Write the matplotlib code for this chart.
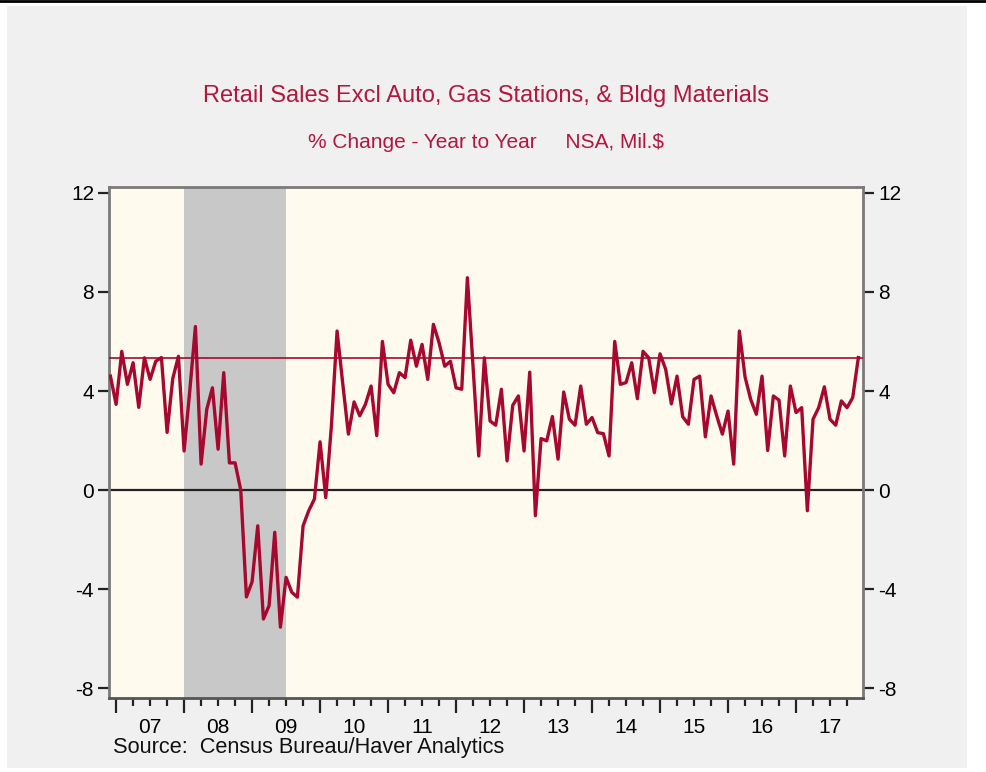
import numpy as np
import pandas as pd
import matplotlib
matplotlib.use("Agg")
import matplotlib.pyplot as plt
from matplotlib.patches import Rectangle

plt.rcParams['font.family'] = ['Liberation Sans', 'DejaVu Sans']
plt.rcParams['axes.unicode_minus'] = False

# monthly % change y/y, Dec 2006 - Dec 2017
start_month = "2006-12-01"
yoy = [4.6, 3.46, 5.6, 4.27, 5.14, 3.34, 5.34, 4.47, 5.2, 5.35, 2.33, 4.5,
       5.4, 1.58, 4.0, 6.6, 1.05, 3.26, 4.13, 1.65, 4.74, 1.1, 1.1, 0.0,
       -4.31, -3.7, -1.44, -5.2, -4.66, -1.7, -5.53, -3.52, -4.12, -4.32, -1.44, -0.83,
       -0.36, 1.95, -0.3, 2.6, 6.42, 4.3, 2.26, 3.56, 3.0, 3.46, 4.2, 2.2,
       6.0, 4.27, 3.93, 4.74, 4.54, 6.05, 5.0, 5.88, 4.47, 6.69, 5.95, 5.0,
       5.2, 4.13, 4.07, 8.57, 5.0, 1.38, 5.34, 2.79, 2.62, 4.07, 1.18, 3.42,
       3.8, 1.58, 4.76, -1.03, 2.08, 1.99, 2.97, 1.25, 3.96, 2.86, 2.62, 4.2,
       2.66, 2.93, 2.32, 2.28, 1.38, 6.0, 4.27, 4.34, 5.14, 3.69, 5.6, 5.34,
       3.93, 5.5, 4.87, 3.48, 4.6, 2.96, 2.66, 4.47, 4.6, 2.15, 3.8, 3.0,
       2.26, 3.19, 1.05, 6.42, 4.57, 3.66, 3.06, 4.6, 1.6, 3.8, 3.63, 1.38,
       4.2, 3.13, 3.33, -0.83, 2.86, 3.33, 4.17, 2.86, 2.62, 3.6, 3.33, 3.73,
       5.35]

recession = (2008.0, 2009.5)
year_labels = ["07", "08", "09", "10", "11", "12", "13", "14", "15", "16", "17"]
yticks = [-8, -4, 0, 4, 8, 12]

dates = pd.date_range(start_month, periods=len(yoy), freq="MS")
t = dates.year + (dates.month - 1) / 12.0

red = "#A6082F"
title_red = "#B3163F"

fig = plt.figure(figsize=(9.87, 7.72), dpi=100)
fig.patch.set_facecolor("white")
fig.patches.append(Rectangle((7 / 987, 1 - 768 / 772), 960 / 987, 762 / 772,
                             transform=fig.transFigure, facecolor="#F0F0F0",
                             edgecolor="none", zorder=-5))
fig.lines.append(plt.Line2D([0, 1], [1 - 1 / 772, 1 - 1 / 772], transform=fig.transFigure,
                            color="black", lw=2, zorder=-4))

ax = fig.add_axes([109.3 / 987, 1 - 698.3 / 772, 753.7 / 987, 511 / 772])
ax.set_zorder(1)
ax.set_facecolor("#FFFAEE")

ax.axvspan(recession[0], recession[1], color="#C8C8C8", lw=0, zorder=1)
ax.axhline(0, color="#222222", lw=1.6, zorder=2)
ax.axhline(yoy[-1], color=red, lw=1.2, zorder=3)
ax.plot(t, yoy, color=red, lw=2.4, zorder=4)

ax.set_xlim(2006.9, 2017.985)
ax.set_ylim(-8.4, 12.22)

years = np.arange(2007, 2018)
quarters = np.arange(2007.0, 2018.0, 0.25)
quarters = quarters[quarters % 1 != 0]
qlabels = [year_labels[int(q) - 2007] if abs(q % 1 - 0.5) < 1e-6 else "" for q in quarters]
ax.set_xticks(years, [""] * len(years))
ax.set_xticks(quarters, qlabels, minor=True)
ax.tick_params(axis="x", which="major", length=11, width=1.6, color="#222222")
ax.tick_params(axis="x", which="minor", length=6, width=1.6, color="#222222",
               labelsize=15, pad=8)

ax.set_yticks(yticks)
ax.tick_params(axis="y", which="both", length=8, width=1.6, color="#222222",
               labelsize=15, pad=3, left=True, right=True, labelleft=True, labelright=True)

for side in ["left", "top", "right"]:
    ax.spines[side].set_color("#7A7A7A")
    ax.spines[side].set_linewidth(2)
ax.spines["bottom"].set_color("#555555")
ax.spines["bottom"].set_linewidth(2)

fig.text(486 / 987, 1 - 96 / 772, "Retail Sales Excl Auto, Gas Stations, & Bldg Materials",
         ha="center", va="center", fontsize=17, color=title_red)
fig.text(486 / 987, 1 - 143 / 772, "% Change - Year to Year     NSA, Mil.$",
         ha="center", va="center", fontsize=15, color=title_red)
fig.text(113 / 987, 1 - 747 / 772, "Source:  Census Bureau/Haver Analytics",
         ha="left", va="center", fontsize=15.7, color="#111111")

fig.savefig("out.png", dpi=100)
